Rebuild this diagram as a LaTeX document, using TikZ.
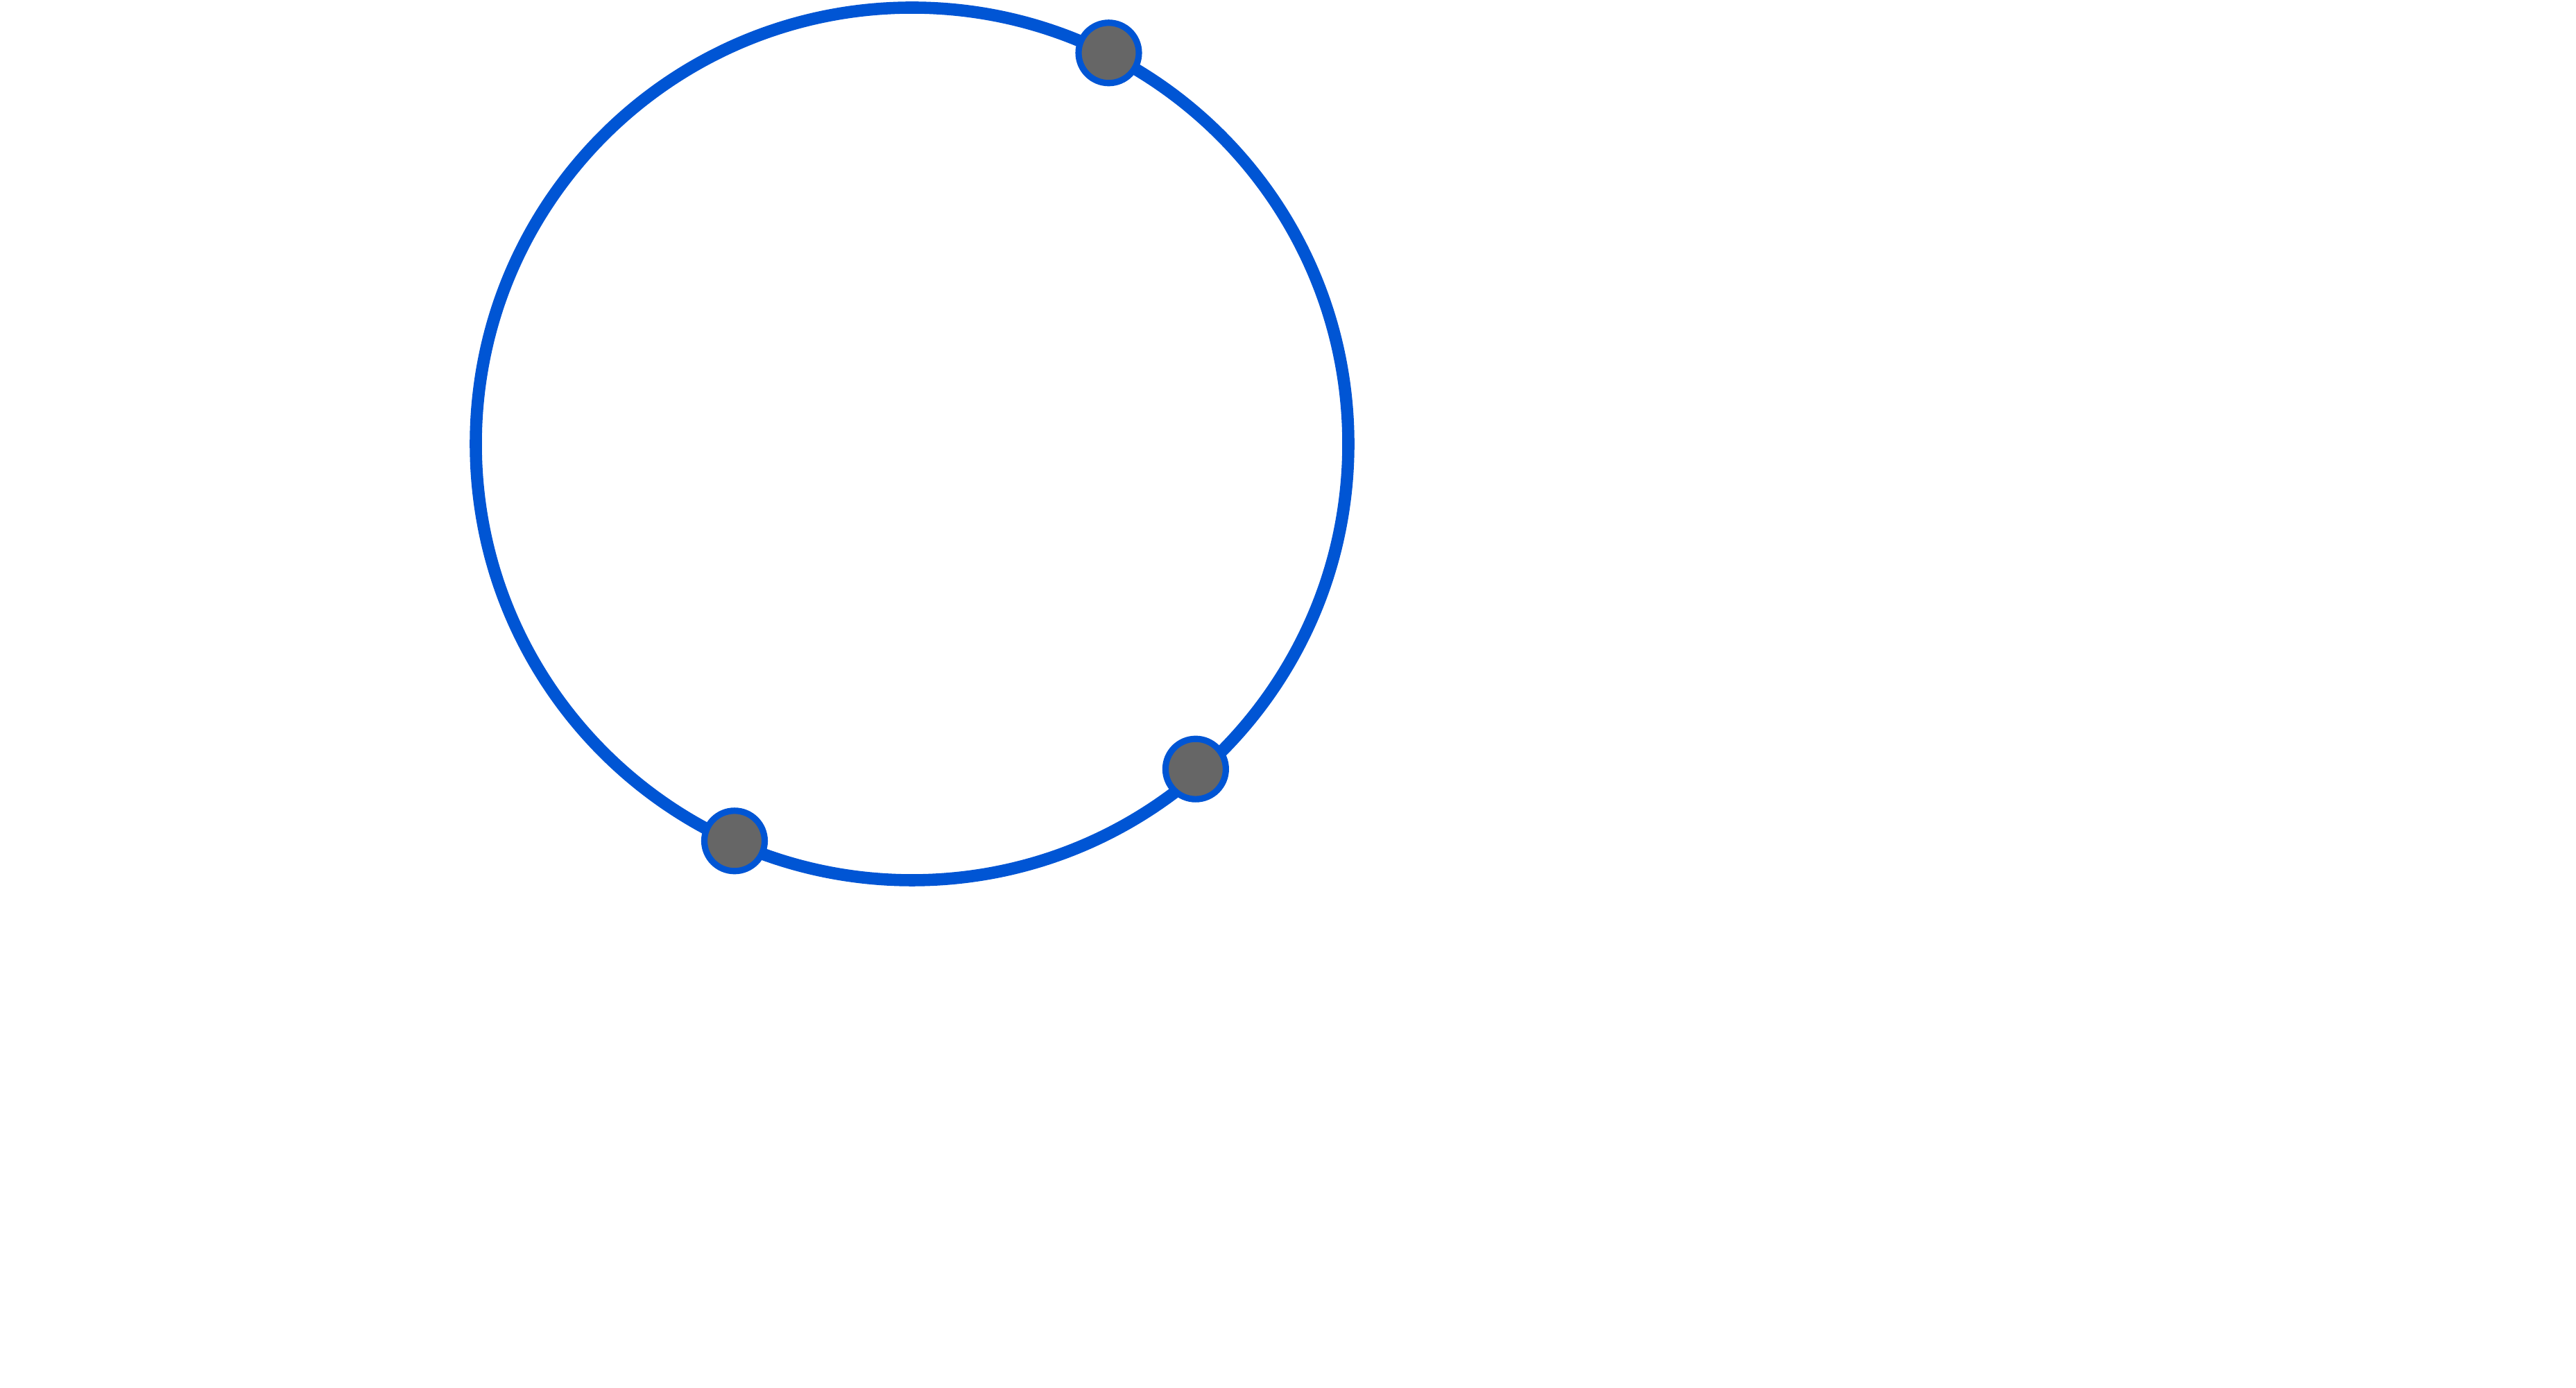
\documentclass[tikz,border=0pt]{standalone}
\usepackage{tikz}
\usetikzlibrary{positioning}
\definecolor{orbitblue}{HTML}{0055D4}
\definecolor{dotgray}{HTML}{666666}

\begin{document}
\begin{tikzpicture}[
  ring/.style={draw=orbitblue, line width=5pt, circle, minimum size=12.58cm, inner sep=0pt, outer sep=0pt},
  pt/.style={draw=orbitblue, fill=dotgray, line width=2.6pt, circle, minimum size=0.87cm, inner sep=0pt}
]
\useasboundingbox (0,0) rectangle (37.14,20.01);
\node[ring] (orbit) at (13.15,13.61) {};

\node[pt] (p1) at ([shift={(63.3:6.31)}]orbit.center) {};
\node[pt] (p2) at ([shift={(-48.9:6.22)}]orbit.center) {};
\node[pt] (p3) at ([shift={(-114.1:6.27)}]orbit.center) {};
\end{tikzpicture}
\end{document}
